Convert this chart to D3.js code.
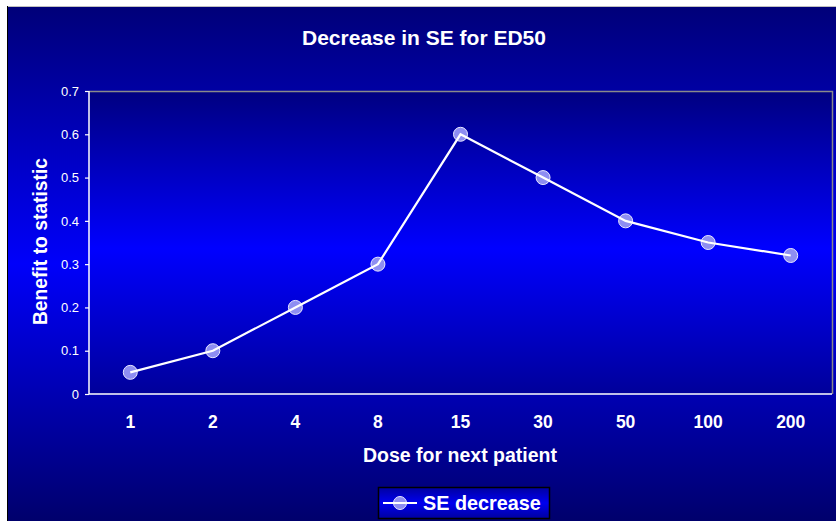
<!DOCTYPE html>
<html><head><meta charset="utf-8">
<script src="https://cdn.jsdelivr.net/npm/d3@7"></script>
<style>html,body{margin:0;padding:0;background:#fff;}svg{display:block;}</style>
</head><body>
<script>
const categories = ["1","2","4","8","15","30","50","100","200"];
const seDecrease = [0.05, 0.10, 0.20, 0.30, 0.60, 0.50, 0.40, 0.35, 0.32];
const yTicks = [0, 0.1, 0.2, 0.3, 0.4, 0.5, 0.6, 0.7];
const seriesName = "SE decrease";
const title = "Decrease in SE for ED50";
const xTitle = "Dose for next patient";
const yTitle = "Benefit to statistic";

const W = 836, H = 521;
const svg = d3.select("body").append("svg").attr("width", W).attr("height", H);
const defs = svg.append("defs");

const og = defs.append("linearGradient").attr("id","outerG").attr("x1",0).attr("y1",0).attr("x2",0).attr("y2",1);
og.append("stop").attr("offset","0%").attr("stop-color","#000078");
og.append("stop").attr("offset","50%").attr("stop-color","#0000fa");
og.append("stop").attr("offset","100%").attr("stop-color","#00006c");

const pg = defs.append("linearGradient").attr("id","plotG").attr("x1",0).attr("y1",0).attr("x2",0).attr("y2",1);
pg.append("stop").attr("offset","0%").attr("stop-color","#000080");
pg.append("stop").attr("offset","52%").attr("stop-color","#0000ff");
pg.append("stop").attr("offset","100%").attr("stop-color","#00009a");

const lg = defs.append("linearGradient").attr("id","legG").attr("x1",0).attr("y1",0).attr("x2",0).attr("y2",1);
lg.append("stop").attr("offset","0%").attr("stop-color","#0000a0");
lg.append("stop").attr("offset","50%").attr("stop-color","#0000f0");
lg.append("stop").attr("offset","100%").attr("stop-color","#0000a0");

// outer chart area
svg.append("rect").attr("x",7).attr("y",6).attr("width",W-7).attr("height",H-6).attr("fill","url(#outerG)");
svg.append("line").attr("x1",7).attr("x2",W).attr("y1",6.5).attr("y2",6.5).attr("stroke","#c0c0c0").attr("stroke-width",1);
svg.append("line").attr("x1",7.5).attr("x2",7.5).attr("y1",6).attr("y2",H).attr("stroke","#000000").attr("stroke-width",1);

const m = {left:89, top:91, right:832, bottom:394};
const x = d3.scaleBand().domain(categories).range([m.left, m.right]);
const y = d3.scaleLinear().domain([0, 0.7]).range([m.bottom, m.top]);

// plot area
svg.append("rect").attr("x",m.left).attr("y",m.top).attr("width",m.right-m.left).attr("height",m.bottom-m.top)
  .attr("fill","url(#plotG)");
svg.append("path").attr("d",`M${m.left},${m.top+0.5}H${m.right+0.5}V${m.bottom}`)
  .attr("fill","none").attr("stroke","#8a8a8a").attr("stroke-width",1.5);

// y axis
const yAxis = svg.append("g").attr("transform",`translate(${m.left},0)`)
  .call(d3.axisLeft(y).tickValues(yTicks).tickSize(4).tickPadding(6).tickFormat(d => d===0 ? "0" : d3.format(".1f")(d)));
yAxis.select(".domain").attr("stroke","#ffffff").attr("stroke-width",1.5).attr("d",`M0,${m.top}V${m.bottom}`);
yAxis.selectAll(".tick line").attr("stroke","#ffffff").attr("stroke-width",1.2);
yAxis.selectAll(".tick text").attr("fill","#ffffff").attr("font-family","Arial, 'Liberation Sans', sans-serif").attr("font-size","13px");

// x axis
const xAxis = svg.append("g").attr("transform",`translate(0,${m.bottom})`)
  .call(d3.axisBottom(x).tickSize(0).tickPadding(22));
xAxis.select(".domain").attr("stroke","#ffffff").attr("stroke-width",1.5).attr("d",`M${m.left},0H${m.right}`);
xAxis.selectAll(".tick text").attr("fill","#ffffff").attr("font-family","Arial, 'Liberation Sans', sans-serif")
  .attr("font-size","17.5px").attr("font-weight","bold");

// line + markers
const cx = d => x(d) + x.bandwidth()/2;
const pts = categories.map((c,i) => [cx(c), y(seDecrease[i])]);
svg.append("g").selectAll("circle").data(pts).join("circle")
  .attr("cx", d => d[0]).attr("cy", d => d[1]).attr("r", 7)
  .attr("fill","#8e8ef2").attr("stroke","#e8e8ff").attr("stroke-width",1);
svg.append("path").datum(pts).attr("d", d3.line()).attr("fill","none").attr("stroke","#ffffff").attr("stroke-width",2.2);

const font = "Arial, 'Liberation Sans', sans-serif";
svg.append("text").attr("x",424).attr("y",45).attr("text-anchor","middle").attr("fill","#fff")
  .attr("font-family",font).attr("font-weight","bold").attr("font-size","21px").text(title);
svg.append("text").attr("x",460).attr("y",462).attr("text-anchor","middle").attr("fill","#fff")
  .attr("font-family",font).attr("font-weight","bold").attr("font-size","19.5px").text(xTitle);
svg.append("text").attr("transform","translate(47,241.5) rotate(-90)").attr("text-anchor","middle").attr("fill","#fff")
  .attr("font-family",font).attr("font-weight","bold").attr("font-size","19.3px").text(yTitle);

// legend
const leg = svg.append("g");
leg.append("rect").attr("x",378.5).attr("y",487.5).attr("width",171).attr("height",31)
  .attr("fill","url(#legG)").attr("stroke","#000000").attr("stroke-width",1.5);
leg.append("circle").attr("cx",400).attr("cy",503).attr("r",6.5).attr("fill","#8e8ef2").attr("stroke","#e8e8ff");
leg.append("line").attr("x1",383).attr("x2",417).attr("y1",503).attr("y2",503).attr("stroke","#fff").attr("stroke-width",2.2);
leg.append("text").attr("x",423).attr("y",510).attr("fill","#fff").attr("font-family",font)
  .attr("font-weight","bold").attr("font-size","19.8px").text(seriesName);
</script>
</body></html>
